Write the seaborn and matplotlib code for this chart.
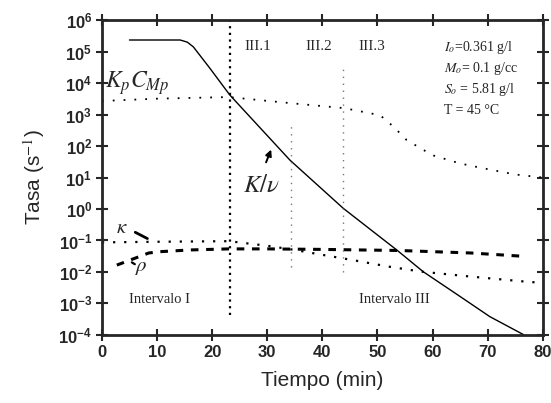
import numpy as np
import pandas as pd
import matplotlib
matplotlib.use("Agg")
import matplotlib.pyplot as plt
from matplotlib.ticker import LogLocator, NullLocator, MultipleLocator
import seaborn as sns

# --- Data (time in min, rates in s^-1) ---
t_kv = [5, 14.2, 15.5, 16.6, 19.6, 23.2, 34.1, 43.8, 50.4, 53.5, 58.3, 65, 70.4, 76.6]
kv = [2.34e5, 2.34e5, 2.0e5, 1.41e5, 2.95e4, 4.2e3, 36, 1.05, 0.132, 0.050,
      0.0102, 0.00166, 3.8e-4, 1.0e-4]

t_kpc = [0, 10, 23, 34.3, 44, 50.5, 53, 55.3, 60, 65, 69, 75, 80]
kpc = [2.7e3, 3.2e3, 3.6e3, 2.3e3, 1.6e3, 9.5e2, 4.0e2, 1.55e2, 51, 28, 20, 12.5, 10]

t_kappa = [0, 10, 23, 30, 35, 40, 46, 52, 58, 67, 77, 80]
kappa = [0.087, 0.091, 0.095, 0.068, 0.050, 0.035, 0.023, 0.0148, 0.0102,
         0.0071, 0.0049, 0.0045]

t_rho = [2.7, 8.5, 10.5, 16, 23, 30, 40, 54, 67, 77]
rho = [0.0165, 0.040, 0.044, 0.050, 0.054, 0.054, 0.052, 0.048, 0.040, 0.031]

# vertical separators: time, bottom, top
sep_t = [23.2, 34.3, 43.8]
sep_lo = [10 ** -3.37, 10 ** -1.84, 10 ** -2.0]
sep_hi = [1e6, 10 ** 2.73, 10 ** 4.51]

sns.set_style("ticks")
plt.rcParams['font.family'] = ['Liberation Sans', 'DejaVu Sans']
plt.rcParams['mathtext.fontset'] = 'stix'

fig = plt.figure(figsize=(5.51, 4.03), dpi=100)
ax = fig.add_axes([0.185, 0.169, 0.800, 0.781])

df_kv = pd.DataFrame({'t': t_kv, 'v': kv})
df_kpc = pd.DataFrame({'t': t_kpc, 'v': kpc})
df_kappa = pd.DataFrame({'t': t_kappa, 'v': kappa})
df_rho = pd.DataFrame({'t': t_rho, 'v': rho})

sns.lineplot(data=df_kv, x='t', y='v', ax=ax, color='black', lw=1.0)
sns.lineplot(data=df_kpc, x='t', y='v', ax=ax, color='black', lw=1.3,
             linestyle=(0, (1, 5)))
sns.lineplot(data=df_kappa, x='t', y='v', ax=ax, color='black', lw=1.6,
             linestyle=(0, (1, 4)))
sns.lineplot(data=df_rho, x='t', y='v', ax=ax, color='black', lw=2.2,
             linestyle=(0, (2.5, 2.5)))

ax.vlines(sep_t[0], sep_lo[0], sep_hi[0], colors='black', lw=1.6,
          linestyles=(0, (1, 2)))
ax.vlines(sep_t[1:], sep_lo[1:], sep_hi[1:], colors='#777777', lw=1.0,
          linestyles=(0, (1, 4)))

ax.set_yscale('log')
ax.set_xlim(0, 80)
ax.set_ylim(1e-4, 1e6)
ax.xaxis.set_major_locator(MultipleLocator(10))
ax.yaxis.set_major_locator(LogLocator(base=10, numticks=12))
ax.yaxis.set_minor_locator(NullLocator())
ax.tick_params(axis='both', which='major', direction='inout', length=8,
               width=1.5, top=True, right=True, labelsize=12, pad=3)
for s in ax.spines.values():
    s.set_linewidth(2)
for lab in ax.get_xticklabels() + ax.get_yticklabels():
    lab.set_fontweight('bold')

ax.set_xlabel('Tiempo (min)', fontsize=15, labelpad=8)
ax.set_ylabel('Tasa (s$^{-1}$)', fontsize=15, labelpad=8)

serif = ['Liberation Serif', 'DejaVu Serif']
ax.text(28.3, 10 ** 5.16, 'III.1', family=serif, fontsize=11, ha='center', va='center')
ax.text(39.4, 10 ** 5.16, 'III.2', family=serif, fontsize=11, ha='center', va='center')
ax.text(49.0, 10 ** 5.16, 'III.3', family=serif, fontsize=11, ha='center', va='center')

params = [r'$I_o$=0.361 g/l', r'$M_o$= 0.1 g/cc', r'$S_o$ = 5.81 g/l', 'T = 45 °C']
for i, p in enumerate(params):
    ax.text(62.0, 10 ** (5.14 - 0.67 * i), p, family=serif, fontsize=10,
            ha='left', va='center')

ax.text(10.5, 10 ** -2.89, 'Intervalo I', family=serif, fontsize=10.5,
        ha='center', va='center')
ax.text(53.0, 10 ** -2.89, 'Intervalo III', family=serif, fontsize=10.5,
        ha='center', va='center')

ax.text(0.6, 10 ** 4.0, r'$K_pC_{Mp}$', fontsize=17, ha='left', va='center')
ax.text(29.0, 10 ** 0.76, r'$K/\nu$', fontsize=18, ha='center', va='center')
ax.annotate('', xy=(30.9, 10 ** 1.97), xytext=(29.6, 10 ** 1.40),
            arrowprops=dict(arrowstyle='-|>', color='black', lw=1.4,
                            mutation_scale=9))
ax.text(3.6, 10 ** -0.60, r'$\kappa$', fontsize=15, ha='center', va='center')
ax.annotate('', xy=(8.7, 10 ** -0.98), xytext=(5.6, 10 ** -0.70),
            arrowprops=dict(arrowstyle='-', color='black', lw=2))
ax.text(7.2, 10 ** -1.87, r'$\rho$', fontsize=15, ha='center', va='center')
ax.annotate('', xy=(5.0, 10 ** -1.65), xytext=(6.4, 10 ** -1.8),
            arrowprops=dict(arrowstyle='-', color='black', lw=1.6))

fig.savefig('out.png', dpi=100)
